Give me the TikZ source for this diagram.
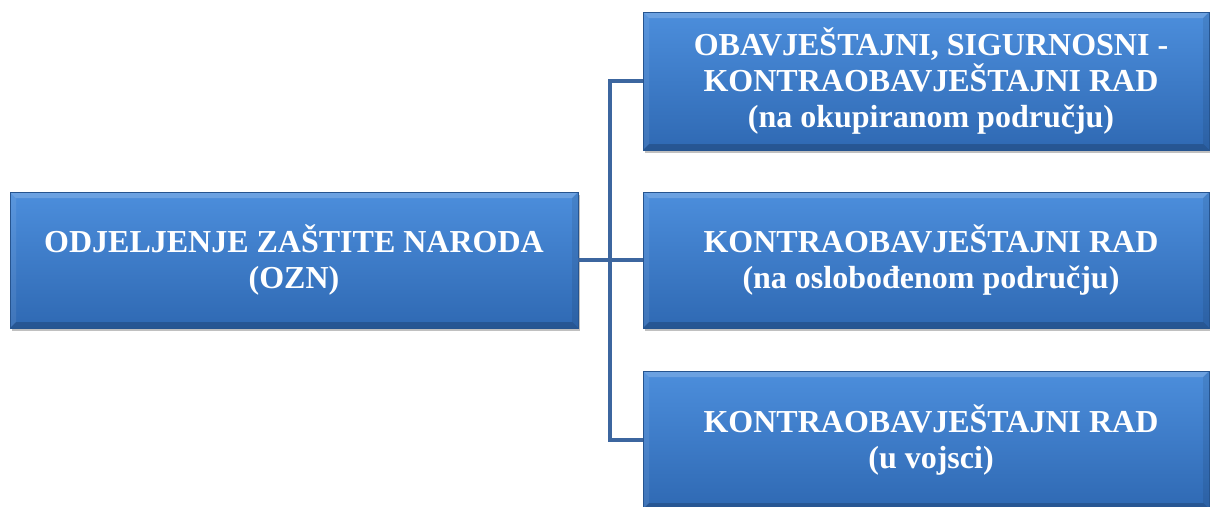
\documentclass[tikz,border=0pt]{standalone}
\usepackage{fontspec}
\setmainfont{Liberation Serif}
\usetikzlibrary{shadows}
\definecolor{boxtop}{HTML}{4C8EDC}
\definecolor{boxbot}{HTML}{2F69B3}
\definecolor{linkc}{HTML}{3C669F}
\tikzset{
  orgbox/.style={rectangle, inner sep=0pt, top color=boxtop, bottom color=boxbot,
    draw=boxbot!80!black, line width=0.6pt, text=white, align=center,
    font=\fontsize{32}{36}\selectfont\bfseries,
    drop shadow={shadow xshift=2pt, shadow yshift=-3pt, opacity=0.35, fill=black!70},
    path picture={
      \coordinate (nw) at (path picture bounding box.north west);
      \coordinate (ne) at (path picture bounding box.north east);
      \coordinate (sw) at (path picture bounding box.south west);
      \coordinate (se) at (path picture bounding box.south east);
      \fill[white,opacity=0.18] (nw) -- (ne) -- ([shift={(-6pt,-6pt)}]ne) -- ([shift={(6pt,-6pt)}]nw) -- cycle;
      \fill[white,opacity=0.08] (nw) -- (sw) -- ([shift={(6pt,6pt)}]sw) -- ([shift={(6pt,-6pt)}]nw) -- cycle;
      \fill[black,opacity=0.08] (ne) -- (se) -- ([shift={(-6pt,6pt)}]se) -- ([shift={(-6pt,-6pt)}]ne) -- cycle;
      \fill[black,opacity=0.18] (sw) -- (se) -- ([shift={(-6pt,6pt)}]se) -- ([shift={(6pt,6pt)}]sw) -- cycle;
    }},
  link/.style={draw=linkc, line width=4pt}
}
\begin{document}
\begin{tikzpicture}[x=1pt,y=-1pt]
\useasboundingbox (0,0) rectangle (1210,506);
\fill[white] (0,0) rectangle (1210,506);
\node[orgbox, minimum width=568pt, minimum height=136pt] (ozn) at (294,260)
  {ODJELJENJE ZAŠTITE NARODA\\(OZN)};
\node[orgbox, minimum width=566pt, minimum height=138pt] (r1) at (926,81)
  {\hspace*{10pt}OBAVJEŠTAJNI, SIGURNOSNI -\\\hspace*{10pt}KONTRAOBAVJEŠTAJNI RAD\\\hspace*{10pt}(na okupiranom području)};
\node[orgbox, minimum width=566pt, minimum height=136pt] (r2) at (926,260)
  {\hspace*{10pt}KONTRAOBAVJEŠTAJNI RAD\\\hspace*{10pt}(na oslobođenom području)};
\node[orgbox, minimum width=566pt, minimum height=138pt] (r3) at (926,440)
  {\hspace*{10pt}KONTRAOBAVJEŠTAJNI RAD\\\hspace*{10pt}(u vojsci)};
\coordinate (jn) at (610,260);
\draw[link] (ozn.east) -- (r2.west);
\draw[link, line join=miter] (r1.west) -- (jn |- r1.west) -- (jn |- r3.west) -- (r3.west);
\end{tikzpicture}
\end{document}
